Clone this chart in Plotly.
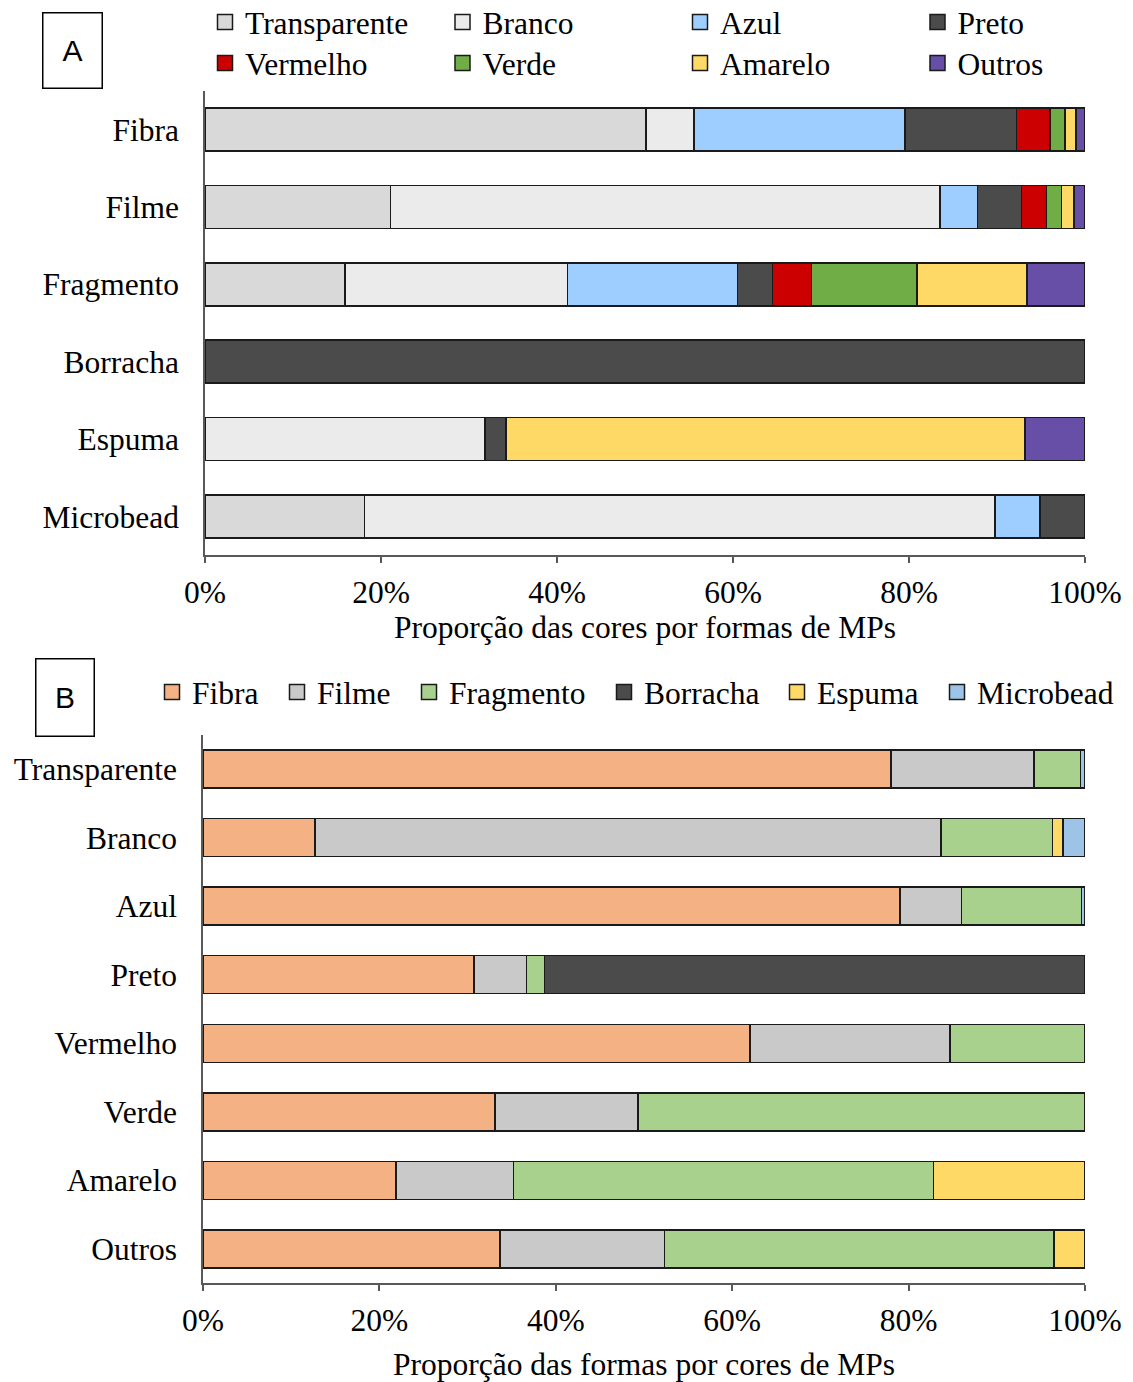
import plotly.graph_objects as go

# ---------------- data ----------------
forms = ["Fibra", "Filme", "Fragmento", "Borracha", "Espuma", "Microbead"]
colours = ["Transparente", "Branco", "Azul", "Preto", "Vermelho", "Verde", "Amarelo", "Outros"]

# Panel A: share of each colour within each MP form (%)
transparente_A = [50.1, 21.1, 15.9, None, None, 18.1]
branco_A = [5.45, 62.4, 25.3, None, 31.8, 71.7]
azul_A = [24.0, 4.3, 19.3, None, None, 5.1]
preto_A = [12.65, 5.0, 4.0, 100.0, 2.4, 5.1]
vermelho_A = [3.8, 2.8, 4.4, None, None, None]
verde_A = [1.7, 1.75, 12.0, None, None, None]
amarelo_A = [1.25, 1.4, 12.5, None, 59.0, None]
outros_A = [1.05, 1.25, 6.6, None, 6.8, None]

# Panel B: share of each form within each MP colour (%)
fibra_B = [78.0, 12.7, 79.0, 30.7, 62.0, 33.1, 21.9, 33.7]
filme_B = [16.2, 71.0, 7.0, 6.0, 22.7, 16.2, 13.3, 18.6]
fragmento_B = [5.3, 12.6, 13.6, 2.0, 15.3, 50.7, 47.6, 44.2]
borracha_B = [None, None, None, 61.3, None, None, None, None]
espuma_B = [None, 1.2, None, None, None, None, 17.2, 3.5]
microbead_B = [0.5, 2.5, 0.4, None, None, None, None, None]

tick_vals = [0, 20, 40, 60, 80, 100]
tick_text = ["0%", "20%", "40%", "60%", "80%", "100%"]
title_A = "Proporção das cores por formas de MPs"
title_B = "Proporção das formas por cores de MPs"

colA = ["#D9D9D9", "#EBEBEB", "#9ECEFF", "#4B4B4B", "#CC0000", "#70AD47", "#FFD966", "#674EA7"]
colB = ["#F4B183", "#C9C9C9", "#A9D18E", "#4B4B4B", "#FFD966", "#9DC3E6"]

# ---------------- geometry helpers ----------------
W, H = 1133, 1382
ML, MR = 203, 48
GW = W - ML - MR


def px_x(px):
    return (px - ML) / GW


def px_y(py):
    return 1 - py / H


FONT = "Liberation Serif"
FS = 31.5
EDGE = "#1a1a1a"
AXC = "#595959"

fig = go.Figure()


def legend_proxy(name, colour, xa, ya, lg, lw):
    # legend-only entry with a larger square swatch (like the reference)
    fig.add_trace(go.Scatter(
        x=[None], y=[None], mode="markers", name=name, xaxis=xa, yaxis=ya,
        marker=dict(symbol="square", size=15, color=colour, line=dict(color=EDGE, width=1.5)),
        legend=lg, legendwidth=lw, showlegend=True, hoverinfo="skip",
    ))


valsA = [transparente_A, branco_A, azul_A, preto_A, vermelho_A, verde_A, amarelo_A, outros_A]
legA = ["legend", "legend", "legend2", "legend2", "legend3", "legend3", "legend4", "legend4"]
for name, vals, c, lg in zip(colours, valsA, colA, legA):
    fig.add_trace(go.Bar(
        y=forms, x=vals, name=name, orientation="h",
        marker=dict(color=c, line=dict(color=EDGE, width=1.5)),
        xaxis="x", yaxis="y", showlegend=False, hoverinfo="x+y+name",
    ))
    legend_proxy(name, c, "x", "y", lg, 192.5)

valsB = [fibra_B, filme_B, fragmento_B, borracha_B, espuma_B, microbead_B]
legB = ["legend5", "legend5", "legend5", "legend6", "legend6", "legend6"]
lwB = [80, 87, 140, 128, 115, 140]
for name, vals, c, lg, lw in zip(forms, valsB, colB, legB, lwB):
    fig.add_trace(go.Bar(
        y=colours, x=vals, name=name, orientation="h",
        marker=dict(color=c, line=dict(color=EDGE, width=1.5)),
        xaxis="x2", yaxis="y2", showlegend=False, hoverinfo="x+y+name",
    ))
    legend_proxy(name, c, "x2", "y2", lg, lw)


def xax(domain, anchor, title, standoff):
    return dict(
        domain=domain, anchor=anchor, range=[0, 100], tickmode="array",
        tickvals=tick_vals, ticktext=tick_text, showline=True, linecolor=AXC,
        linewidth=1.5, ticks="outside", ticklen=6, tickwidth=1.5, tickcolor=AXC,
        showgrid=False, zeroline=False, ticklabelstandoff=2,
        tickfont=dict(family=FONT, size=FS, color="black"),
        title=dict(text=title, standoff=standoff, font=dict(family=FONT, size=FS, color="black")),
        fixedrange=True,
    )


def yax(domain, anchor, cats):
    n = len(cats)
    return dict(
        domain=domain, anchor=anchor, type="category", categoryorder="array",
        categoryarray=cats, range=[n - 0.5, -0.5], showline=True, linecolor=AXC,
        linewidth=1.5, ticks="", showgrid=False, zeroline=False,
        ticklabelstandoff=18, tickfont=dict(family=FONT, size=FS, color="black"),
        fixedrange=True,
    )


def leg(left_px, centre_py):
    return dict(
        orientation="h", x=px_x(left_px), xanchor="left", y=px_y(centre_py),
        yanchor="middle", bgcolor="rgba(0,0,0,0)", borderwidth=0,
        font=dict(family=FONT, size=FS, color="black"), traceorder="normal",
        itemclick=False, itemdoubleclick=False,
    )


fig.update_layout(
    width=W, height=H, barmode="stack", bargap=0.445,
    margin=dict(l=ML, r=MR, t=0, b=0, autoexpand=False),
    paper_bgcolor="white", plot_bgcolor="white",
    font=dict(family=FONT, size=FS, color="black"),
    xaxis=xax([px_x(205), 1], "y", title_A, 2),
    yaxis=yax([px_y(555.2), px_y(90.8)], "x", forms),
    xaxis2=xax([0, 1], "y2", title_B, 16),
    yaxis2=yax([px_y(1283.3), px_y(734.7)], "x2", colours),
    legend=leg(205, 22), legend2=leg(680, 22),
    legend3=leg(205, 63), legend4=leg(680, 63),
    legend5=leg(152, 692), legend6=leg(604, 692),
    annotations=[
        dict(text="A", x=px_x(72.5), y=px_y(50.5), xref="paper", yref="paper",
             xanchor="center", yanchor="middle",
             showarrow=False, width=58, height=74, borderpad=0, bordercolor="black",
             borderwidth=1.5, font=dict(family="Liberation Sans", size=30, color="black")),
        dict(text="B", x=px_x(65), y=px_y(697.5), xref="paper", yref="paper",
             xanchor="center", yanchor="middle",
             showarrow=False, width=57, height=76, borderpad=0, bordercolor="black",
             borderwidth=1.5, font=dict(family="Liberation Sans", size=30, color="black")),
    ],
)

fig.write_html("out.html", config={"displayModeBar": False},
               post_script="document.body.style.margin='0';")
